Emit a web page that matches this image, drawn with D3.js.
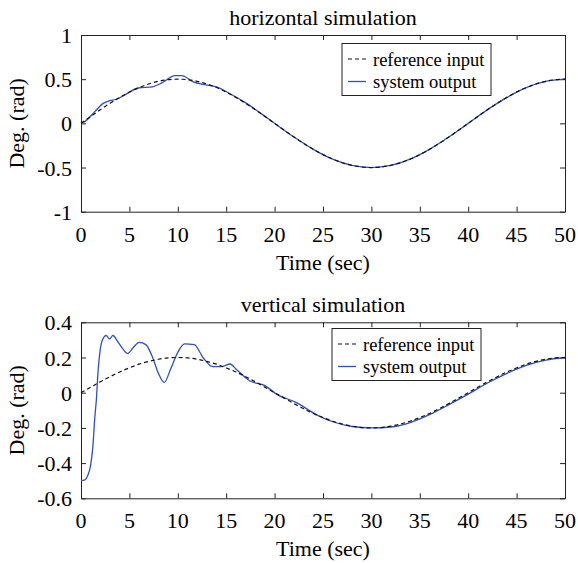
<!DOCTYPE html>
<html>
<head>
<meta charset="utf-8">
<script src="https://cdn.jsdelivr.net/npm/d3@7"></script>
<style>
  body { margin: 0; background: #fff; }
  svg { display: block; font-family: "Liberation Serif", "Times New Roman", serif; }
</style>
</head>
<body>
<svg width="578" height="563"></svg>
<script>
// time axis ticks
var xTicks = [0, 5, 10, 15, 20, 25, 30, 35, 40, 45, 50];

// reference input, sampled every 1 sec (t = 0..50)
var refTime = d3.range(0, 51);
var refHorizontal = [0, 0.078, 0.155, 0.227, 0.294, 0.354, 0.405, 0.446, 0.476, 0.494,
  0.5, 0.494, 0.476, 0.446, 0.405, 0.354, 0.294, 0.227, 0.155, 0.078,
  0, -0.078, -0.155, -0.227, -0.294, -0.354, -0.405, -0.446, -0.476, -0.494,
  -0.5, -0.494, -0.476, -0.446, -0.405, -0.354, -0.294, -0.227, -0.155, -0.078,
  0, 0.078, 0.155, 0.227, 0.294, 0.354, 0.405, 0.446, 0.476, 0.494, 0.5];
var refVertical = [0, 0.031, 0.062, 0.091, 0.118, 0.141, 0.162, 0.178, 0.190, 0.198,
  0.2, 0.198, 0.190, 0.178, 0.162, 0.141, 0.118, 0.091, 0.062, 0.031,
  0, -0.031, -0.062, -0.091, -0.118, -0.141, -0.162, -0.178, -0.190, -0.198,
  -0.2, -0.198, -0.190, -0.178, -0.162, -0.141, -0.118, -0.091, -0.062, -0.031,
  0, 0.031, 0.062, 0.091, 0.118, 0.141, 0.162, 0.178, 0.190, 0.198, 0.2];

// system output
var outTimeH = [0, 0.4, 1.4, 2.3, 3.0, 3.6, 4.8, 5.9, 7.4, 8.4, 9.7, 10.4, 11.6, 12.6, 14, 15.4, 17.1, 19.5,
  22, 24, 26, 28, 30, 32, 34, 36, 38, 40, 42, 44, 46, 48, 50];
var outHorizontal = [0, 0.02, 0.13, 0.226, 0.256, 0.27, 0.34, 0.40, 0.414, 0.46, 0.54, 0.54, 0.47, 0.44, 0.414, 0.335, 0.226, 0.04,
  -0.155, -0.294, -0.405, -0.476, -0.5, -0.476, -0.405, -0.294, -0.155, 0, 0.155, 0.294, 0.405, 0.476, 0.5];

var outTimeV = [0, 0.4, 0.7, 1.0, 1.25, 1.4, 1.6, 1.75, 2.0, 2.3, 2.6, 2.95, 3.3, 3.8, 4.3, 4.8, 5.4, 6.0, 6.7, 7.4, 8.0, 8.6,
  9.3, 10.0, 10.7, 11.7, 12.6, 13.6, 14.5, 15.4, 16.0, 17.4, 19.0, 20.2, 22.2, 24.5,
  26, 28, 30, 32, 34, 36, 38, 40, 42, 44, 46, 48, 50];
var outVertical = [-0.5, -0.495, -0.47, -0.41, -0.29, -0.16, -0.03, 0.11, 0.25, 0.31, 0.325, 0.305, 0.325, 0.29, 0.25, 0.223, 0.257, 0.286, 0.273, 0.20, 0.11, 0.059,
  0.14, 0.229, 0.277, 0.273, 0.20, 0.148, 0.148, 0.163, 0.135, 0.068, 0.04, -0.008, -0.055, -0.13,
  -0.165, -0.192, -0.2, -0.195, -0.17, -0.125, -0.068, -0.008, 0.055, 0.11, 0.155, 0.185, 0.2];

var yTicksH = [-1, -0.5, 0, 0.5, 1];
var yTicksV = [-0.6, -0.4, -0.2, 0, 0.2, 0.4];

var svg = d3.select("svg");
var blue = "#3050c0";

function drawPanel(opt) {
  var x = d3.scaleLinear().domain([0, 50]).range([81, 565]);
  var y = d3.scaleLinear().domain(opt.yDomain).range([opt.bottom, opt.top]);
  var g = svg.append("g");

  // inside ticks on all four sides, like matlab
  g.append("g").attr("transform", "translate(0," + opt.bottom + ")")
    .call(d3.axisBottom(x).tickValues(xTicks).tickSizeInner(-5).tickSizeOuter(0).tickFormat(""));
  g.append("g").attr("transform", "translate(0," + opt.top + ")")
    .call(d3.axisTop(x).tickValues(xTicks).tickSizeInner(-5).tickSizeOuter(0).tickFormat(""));
  g.append("g").attr("transform", "translate(81,0)")
    .call(d3.axisLeft(y).tickValues(opt.yTicks).tickSizeInner(-5).tickSizeOuter(0).tickFormat(""));
  g.append("g").attr("transform", "translate(565,0)")
    .call(d3.axisRight(y).tickValues(opt.yTicks).tickSizeInner(-5).tickSizeOuter(0).tickFormat(""));
  g.selectAll(".domain, .tick line").attr("stroke", "#222").attr("stroke-width", 1);

  // tick labels
  g.selectAll(".xl").data(xTicks).enter().append("text")
    .attr("x", function(d) { return x(d); })
    .attr("y", opt.bottom + 30)
    .attr("text-anchor", "middle")
    .style("font-size", "22px")
    .text(function(d) { return d; });
  g.selectAll(".yl").data(opt.yTicks).enter().append("text")
    .attr("x", 72)
    .attr("y", function(d) { return y(d) + 8; })
    .attr("text-anchor", "end")
    .style("font-size", "22px")
    .text(function(d) { return d; });

  // titles
  g.append("text").attr("x", 323).attr("y", opt.top - 10.5)
    .attr("text-anchor", "middle").style("font-size", "22px").text(opt.title);
  g.append("text").attr("x", 323).attr("y", opt.bottom + 58)
    .attr("text-anchor", "middle").style("font-size", "22px").text("Time (sec)");
  g.append("text")
    .attr("transform", "translate(24," + ((opt.top + opt.bottom) / 2) + ") rotate(-90)")
    .attr("text-anchor", "middle").style("font-size", "22px").text("Deg. (rad)");

  var line = d3.line()
    .x(function(d) { return x(d[0]); })
    .y(function(d) { return y(d[1]); })
    .curve(d3.curveMonotoneX);

  g.append("path")
    .attr("d", line(d3.zip(opt.outT, opt.outV)))
    .attr("fill", "none").attr("stroke", blue).attr("stroke-width", 1.3);
  g.append("path")
    .attr("d", line(d3.zip(refTime, opt.refV)))
    .attr("fill", "none").attr("stroke", "#111").attr("stroke-width", 1.2)
    .attr("stroke-dasharray", "4,3");

  // legend
  var lg = g.append("g").attr("transform", "translate(" + opt.legX + "," + opt.legY + ")");
  lg.append("rect").attr("width", 149).attr("height", 52)
    .attr("fill", "#fff").attr("stroke", "#222");
  lg.append("line").attr("x1", 6).attr("x2", 24).attr("y1", 15.5).attr("y2", 15.5)
    .attr("stroke", "#111").attr("stroke-width", 1.2).attr("stroke-dasharray", "4,3");
  lg.append("line").attr("x1", 6).attr("x2", 24).attr("y1", 38).attr("y2", 38)
    .attr("stroke", blue).attr("stroke-width", 1.3);
  lg.append("text").attr("x", 31).attr("y", 22).style("font-size", "18.5px").text("reference input");
  lg.append("text").attr("x", 31).attr("y", 44).style("font-size", "18.5px").text("system output");
}

drawPanel({ top: 35, bottom: 211.7, yDomain: [-1, 1], yTicks: yTicksH,
  title: "horizontal simulation", refV: refHorizontal, outT: outTimeH, outV: outHorizontal,
  legX: 342, legY: 43.5 });
drawPanel({ top: 322.3, bottom: 498.3, yDomain: [-0.6, 0.4], yTicks: yTicksV,
  title: "vertical simulation", refV: refVertical, outT: outTimeV, outV: outVertical,
  legX: 332, legY: 328.5 });
</script>
</body>
</html>
